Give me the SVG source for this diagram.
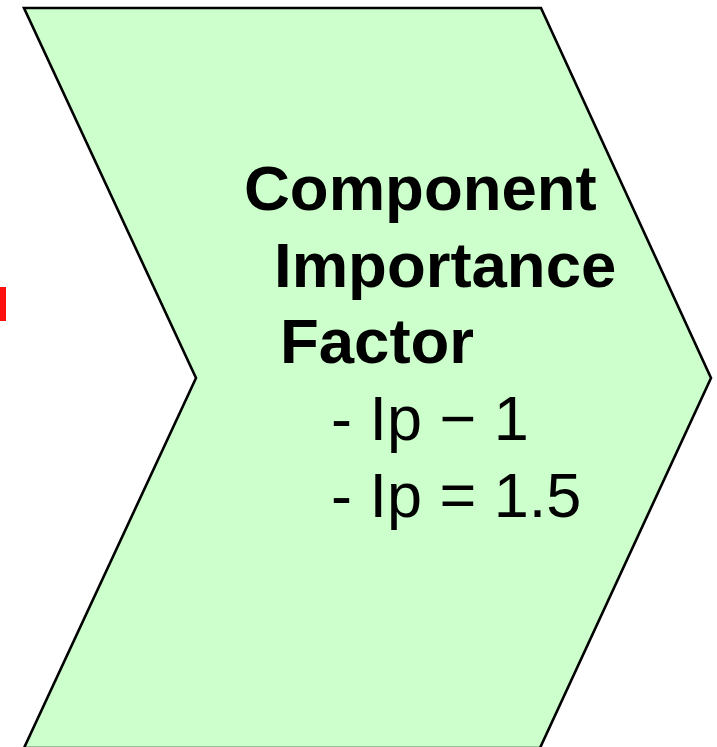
<svg xmlns="http://www.w3.org/2000/svg" width="717" height="747" viewBox="0 0 717 747">
<style>
.shape{fill:#CCFFCC;stroke:#000;stroke-width:2.6;stroke-linejoin:miter}
.b{font-family:"Liberation Sans",Arial,sans-serif;font-weight:bold;font-size:63.5px;fill:#000}
.r{font-family:"Liberation Sans",Arial,sans-serif;font-size:63px;fill:#000}
</style>
<rect width="717" height="747" fill="#fff"/>
<rect x="0" y="287" width="6" height="34" fill="#FF1010"/>
<g id="chevron">
<polygon class="shape" points="24,8 541,8 711,378 540,748 24,748 196,378"/>
<text class="b" x="244" y="210">Component</text>
<text class="b" x="274" y="287">Importance</text>
<text class="b" x="280" y="363">Factor</text>
<text class="r" x="331" y="440">- Ip − 1</text>
<text class="r" x="331" y="517">- Ip = 1.5</text>
</g>
</svg>
